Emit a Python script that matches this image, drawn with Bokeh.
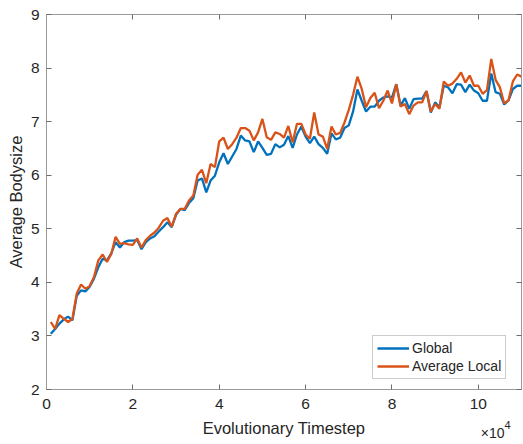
from bokeh.plotting import figure
from bokeh.models import FixedTicker, LinearAxis, Range1d, Title
from bokeh.embed import file_html
from bokeh.resources import INLINE

# Evolutionary timesteps (sampled every 1000 steps)
timesteps = list(range(1000, 111000, 1000))

# Average body size across the whole population
global_size = [
    3.04, 3.13, 3.23, 3.31, 3.36, 3.29, 3.75, 3.85, 3.83, 3.92,
    4.07, 4.28, 4.44, 4.41, 4.54, 4.75, 4.65, 4.75, 4.78, 4.78,
    4.79, 4.62, 4.75, 4.82, 4.86, 4.95, 5.03, 5.12, 5.03, 5.26,
    5.37, 5.35, 5.48, 5.57, 5.90, 5.94, 5.68, 5.90, 5.99, 6.24,
    6.41, 6.21, 6.35, 6.49, 6.74, 6.65, 6.63, 6.43, 6.63, 6.51,
    6.38, 6.40, 6.58, 6.52, 6.57, 6.73, 6.51, 6.76, 6.91, 6.72,
    6.60, 6.72, 6.58, 6.51, 6.40, 6.78, 6.67, 6.70, 6.88, 6.93,
    7.19, 7.60, 7.39, 7.19, 7.28, 7.28, 7.39, 7.45, 7.47, 7.45,
    7.70, 7.30, 7.44, 7.24, 7.42, 7.43, 7.43, 7.57, 7.17, 7.36,
    7.27, 7.67, 7.64, 7.53, 7.70, 7.69, 7.55, 7.69, 7.58, 7.53,
    7.39, 7.39, 7.90, 7.55, 7.52, 7.32, 7.40, 7.61, 7.67, 7.67,
]

# Mean of the local-neighbourhood average body sizes
local_size = [
    3.26, 3.13, 3.39, 3.32, 3.26, 3.32, 3.79, 3.96, 3.88, 3.93,
    4.10, 4.41, 4.52, 4.38, 4.53, 4.85, 4.72, 4.73, 4.71, 4.70,
    4.82, 4.65, 4.79, 4.87, 4.93, 5.02, 5.15, 5.20, 5.04, 5.28,
    5.37, 5.37, 5.53, 5.62, 6.01, 6.10, 5.85, 6.21, 6.15, 6.63,
    6.70, 6.49, 6.58, 6.70, 6.88, 6.88, 6.83, 6.65, 6.80, 7.05,
    6.71, 6.66, 6.80, 6.77, 6.70, 6.92, 6.61, 6.96, 6.96, 6.76,
    6.68, 7.17, 6.76, 6.72, 6.49, 6.91, 6.76, 6.79, 6.98, 7.22,
    7.50, 7.84, 7.61, 7.27, 7.44, 7.54, 7.25, 7.39, 7.58, 7.34,
    7.70, 7.28, 7.33, 7.14, 7.30, 7.36, 7.36, 7.57, 7.19, 7.33,
    7.24, 7.75, 7.67, 7.71, 7.80, 7.92, 7.73, 7.86, 7.67, 7.67,
    7.52, 7.59, 8.17, 7.78, 7.64, 7.34, 7.40, 7.75, 7.88, 7.84,
]

x_ticks = [0, 20000, 40000, 60000, 80000, 100000]
x_tick_labels = ["0", "2", "4", "6", "8", "10"]
y_ticks = [2, 3, 4, 5, 6, 7, 8, 9]

FONT = "Liberation Sans"
AXIS_COLOR = "#9a9a9a"
TICK_COLOR = "#6e6e6e"
TEXT_COLOR = "#262626"
BLUE = "#0072BD"
ORANGE = "#D95319"

p = figure(
    width=523, height=444,
    output_backend="svg", toolbar_location=None,
    x_range=Range1d(0, 110000), y_range=Range1d(2, 9),
    min_border_left=46, min_border_right=2,
    min_border_top=14, min_border_bottom=55,
)
p.grid.visible = False
p.outline_line_color = AXIS_COLOR
p.outline_line_width = 1
p.background_fill_color = "white"
p.border_fill_color = "white"

p.line(timesteps, global_size, line_color=BLUE, line_width=2.3, legend_label="Global")
p.line(timesteps, local_size, line_color=ORANGE, line_width=2.3, legend_label="Average Local")


def style_axis(ax, show_labels):
    ax.axis_line_color = AXIS_COLOR
    ax.major_tick_line_color = TICK_COLOR
    ax.major_tick_in = 5
    ax.major_tick_out = 0
    ax.minor_tick_line_color = None
    ax.major_label_text_font = FONT
    ax.major_label_text_color = TEXT_COLOR
    ax.axis_label_text_font = FONT
    ax.axis_label_text_color = TEXT_COLOR
    ax.axis_label_text_font_style = "normal"
    if not show_labels:
        ax.major_label_overrides = {t: "" for t in ax.ticker.ticks}
        ax.major_label_standoff = 0


xb = p.xaxis[0]
xb.ticker = FixedTicker(ticks=x_ticks)
xb.major_label_overrides = dict(zip(x_ticks, x_tick_labels))
style_axis(xb, True)
xb.major_label_text_font_size = "15.5px"
xb.major_label_standoff = 9
xb.axis_label = "Evolutionary Timestep"
xb.axis_label_text_font_size = "16.5px"
xb.axis_label_standoff = 7

yl = p.yaxis[0]
yl.ticker = FixedTicker(ticks=y_ticks)
style_axis(yl, True)
yl.major_label_text_font_size = "15.5px"
yl.major_label_standoff = 7
yl.axis_label = "Average Bodysize"
yl.axis_label_text_font_size = "16.5px"
yl.axis_label_standoff = 3

# box ticks on the top and right edges
top = LinearAxis(ticker=FixedTicker(ticks=x_ticks))
style_axis(top, False)
p.add_layout(top, "above")
right = LinearAxis(ticker=FixedTicker(ticks=y_ticks))
style_axis(right, False)
p.add_layout(right, "right")

# x-axis exponent at the right end, on the axis-label line
p.add_layout(Title(text="\u00d710", align="right", offset=17, standoff=-29,
                   vertical_align="top", text_font=FONT, text_font_size="14px",
                   text_font_style="normal", text_color=TEXT_COLOR), "below")
p.add_layout(Title(text="4", align="right", offset=11, standoff=-37,
                   vertical_align="top", text_font=FONT, text_font_size="11px",
                   text_font_style="normal", text_color=TEXT_COLOR), "below")

leg = p.legend[0]
leg.location = (326, 10)
leg.label_text_font = FONT
leg.label_text_font_size = "14px"
leg.label_text_color = TEXT_COLOR
leg.glyph_width = 32
leg.glyph_height = 16
leg.label_height = 16
leg.label_standoff = 3
leg.spacing = 2
leg.padding = 4
leg.margin = 0
leg.border_line_color = AXIS_COLOR
leg.border_line_width = 1
leg.background_fill_color = "white"
leg.background_fill_alpha = 1

open("out.html", "w").write(file_html(p, INLINE))
